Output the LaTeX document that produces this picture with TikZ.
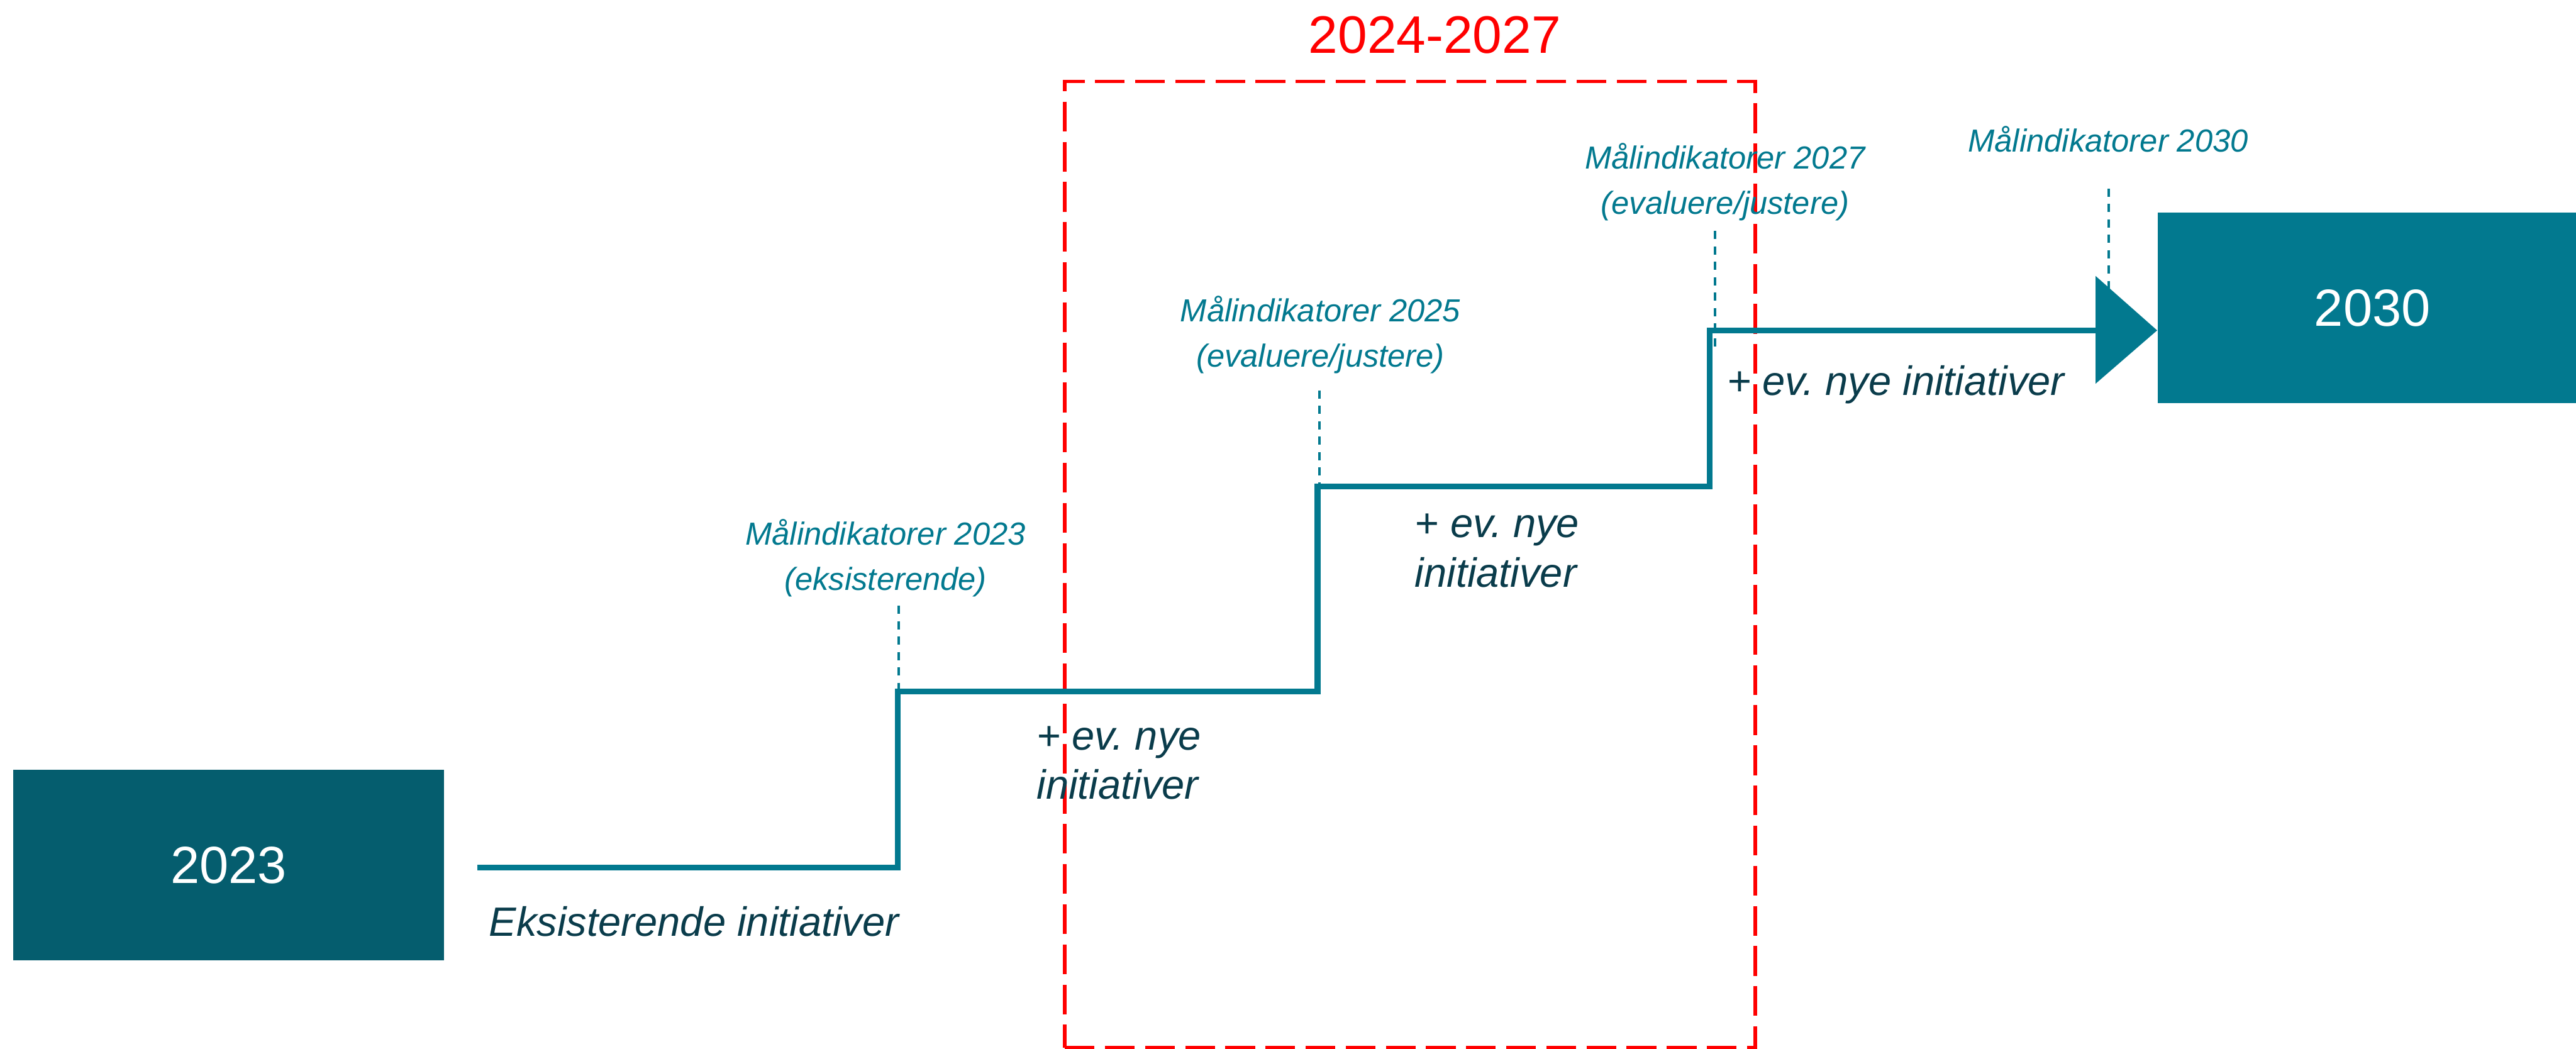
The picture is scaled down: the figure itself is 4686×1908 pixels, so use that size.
\documentclass[tikz,border=0pt]{standalone}
\usepackage{fontspec}
\setmainfont{Liberation Sans}
\frenchspacing
\definecolor{tealline}{HTML}{02798F}
\definecolor{tealdark}{HTML}{055D6E}
\definecolor{textdark}{HTML}{0A3C4B}
\definecolor{periodred}{HTML}{FF0000}
\begin{document}
\begin{tikzpicture}[x=0.2pt,y=-0.2pt,
  yearbox/.style={rectangle, inner sep=0pt, text=white,
    minimum height=69.5pt, font=\fontsize{19}{22}\selectfont},
  stepline/.style={draw=tealline, line width=2.2pt, line join=miter},
  tick/.style={draw=tealline, line width=0.8pt, dash pattern=on 3pt off 2.6pt},
  % multi-line labels: the base anchor sits on the last line
  goal/.style={inner sep=0pt, text=tealline, align=center, anchor=base,
    font=\fontsize{11.6}{16.6}\selectfont\itshape},
  initlabel/.style={inner sep=0pt, text=textdark, align=left, anchor=base west,
    font=\fontsize{14.9}{18}\selectfont\itshape\frenchspacing},
  period/.style={draw=periodred, line width=1.3pt, dash pattern=on 10.8pt off 3.8pt,
    rectangle, inner sep=0pt}]
\useasboundingbox (0,0) rectangle (4686,1908);

% period frame and its title
\node[period, minimum width=251.2pt, minimum height=351.6pt] (frame) at (2565,1027) {};
\node[inner sep=0pt, anchor=base, text=periodred, font=\fontsize{19.2}{22}\selectfont]
  (frametitle) at (2610,97) {2024-2027};

% start and end boxes
\node[yearbox, fill=tealdark, minimum width=156.8pt] (y2023) at (416,1573.5) {2023};
\node[yearbox, fill=tealline, minimum width=156.2pt] (y2030) at (4315.5,560) {2030};

% corners of the staircase
\coordinate (a0) at (868,1578);
\coordinate (a1) at (1633,1578);
\coordinate (a2) at (1633,1258);
\coordinate (b2) at (2397,1258);
\coordinate (b3) at (2397,885);
\coordinate (c3) at (3110,885);
\coordinate (c4) at (3110,601);
\coordinate (d4) at (3812,601);
\coordinate (tipup) at (3812,502);
\coordinate (tipdown) at (3812,698);

% upper ends of the indicator ticks
\coordinate (k23) at (1635,1102);
\coordinate (k25) at (2400,710);
\coordinate (k27) at (3120,420);
\coordinate (k27end) at (3120,630);
\coordinate (k30) at (3836,343);

% indicator ticks
\draw[tick] (k23) -- (k23 |- a2);
\draw[tick] (k25) -- (k25 |- b3);
\draw[tick] (k27) -- (k27end);
\draw[tick] (k30) -- (k30 |- d4);

% staircase with arrow head into 2030
\draw[stepline] (a0) -- (a1) -- (a2) -- (b2) -- (b3) -- (c3) -- (c4) -- (d4);
\fill[tealline] (tipup) -- (y2030.west |- d4) -- (tipdown) -- cycle;

% indicator labels
\node[goal] (g23) at (1611,1074) {Målindikatorer 2023\\(eksisterende)};
\node[goal] (g25) at (2402,668) {Målindikatorer 2025\\(evaluere/justere)};
\node[goal] (g27) at (3138,390) {Målindikatorer 2027\\(evaluere/justere)};
\node[goal] (g30) at (3835,276) {Målindikatorer 2030};

% initiative labels
\node[initlabel] (i0) at (889,1703) {Eksisterende initiativer};
\node[initlabel] (i1) at (1885,1454) {+ ev. nye\\initiativer};
\node[initlabel] (i2) at (2573,1068) {+ ev. nye\\initiativer};
\node[initlabel] (i3) at (3141,719) {+ ev. nye initiativer};
\end{tikzpicture}
\end{document}
